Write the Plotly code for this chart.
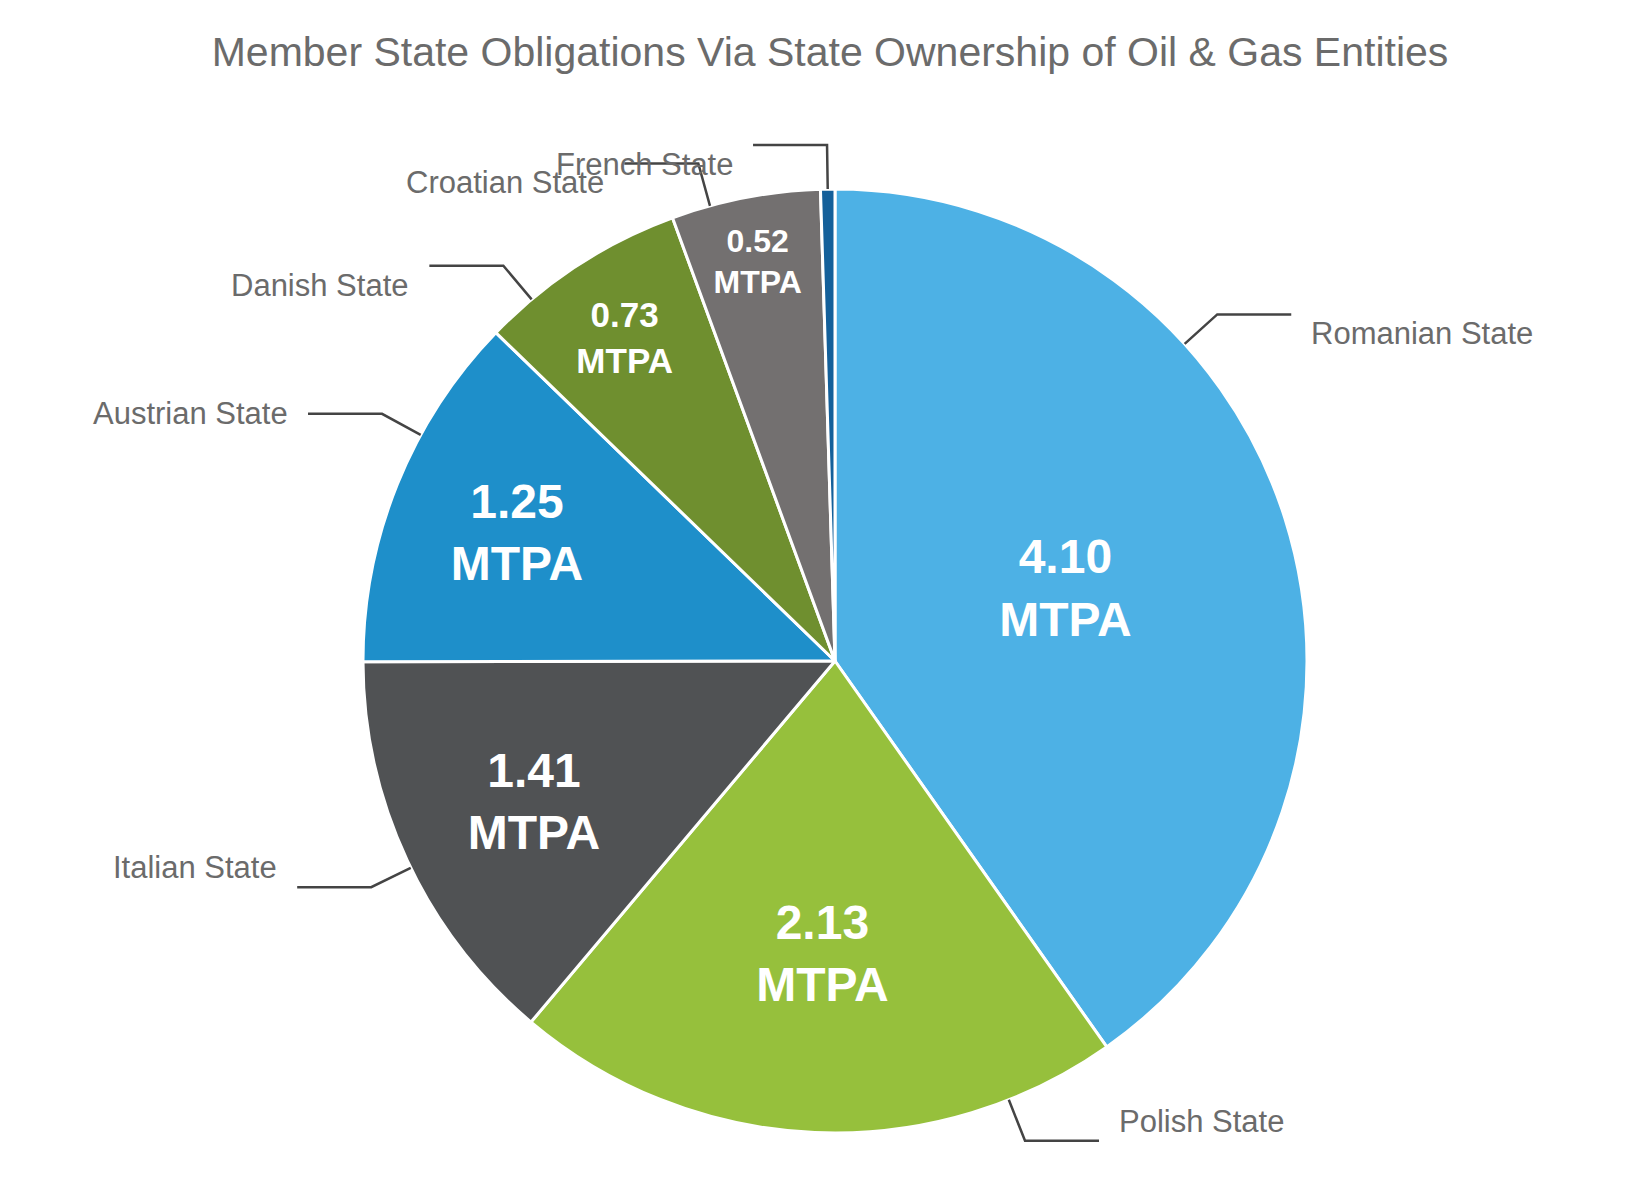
import math
import plotly.graph_objects as go

W, H = 1644, 1189

states = ["Romanian State", "Polish State", "Italian State", "Austrian State",
          "Danish State", "Croatian State", "French State"]
mtpa = [4.10, 2.13, 1.41, 1.25, 0.73, 0.52, 0.05]
colors = ["#4db1e5", "#96c03c", "#505254", "#1e8fca", "#6f8f2f", "#737070", "#14609a"]
text_sizes = [48, 48, 48, 48, 35, 32, 1]
# where along each slice the leader line leaves the pie (0 = start, 1 = end)
leader_frac = [0.33, 0.18, 0.48, 0.65, 0.23, 0.26, 0.5]

GREY = "#6b6b6b"
FONT = "Liberation Sans"
cx, cy, r = 827, 653, 472  # pie centre / radius in pixels

fig = go.Figure(go.Pie(
    labels=states, values=mtpa, sort=False, direction="clockwise", rotation=0,
    marker=dict(colors=colors, line=dict(color="white", width=3)),
    texttemplate=["<b>%{value:.2f}<br>MTPA</b>"] * 6 + [""],
    textposition="inside", insidetextorientation="horizontal",
    textfont=dict(color="white", size=text_sizes, family=FONT),
    domain=dict(x=[(cx - r) / W, (cx + r) / W], y=[1 - (cy + r) / H, 1 - (cy - r) / H]),
    showlegend=False, hoverinfo="label+value",
))

total = sum(mtpa)
acc = 0
shapes, annos = [], []
px = lambda x: x / W
py = lambda y: 1 - y / H
for name, v, f in zip(states, mtpa, leader_frac):
    ang = (acc + v * f) / total * 2 * math.pi
    acc += v
    sx, sy = math.sin(ang), -math.cos(ang)
    x0, y0 = cx + r * sx, cy + r * sy
    x1, y1 = cx + (r + 44) * sx, cy + (r + 44) * sy
    right = sx >= 0
    x2 = x1 + (74 if right else -74)
    shapes.append(dict(type="path", xref="paper", yref="paper",
                       path=f"M {px(x0)},{py(y0)} L {px(x1)},{py(y1)} L {px(x2)},{py(y1)}",
                       line=dict(color="#444", width=2.5)))
    annos.append(dict(x=px(x2 + (18 if right else -18)), y=py(y1), xref="paper", yref="paper",
                      text=name, showarrow=False, xanchor="left" if right else "right",
                      font=dict(size=31, color=GREY, family=FONT)))

fig.update_layout(
    width=W, height=H, margin=dict(l=0, r=0, t=0, b=0),
    paper_bgcolor="white", plot_bgcolor="white",
    title=dict(text="Member State Obligations Via State Ownership of Oil & Gas Entities",
               x=0.5, y=1 - 44 / H, yanchor="middle",
               font=dict(size=41, color=GREY, family=FONT)),
    shapes=shapes, annotations=annos,
)
fig.write_html("out.html")
